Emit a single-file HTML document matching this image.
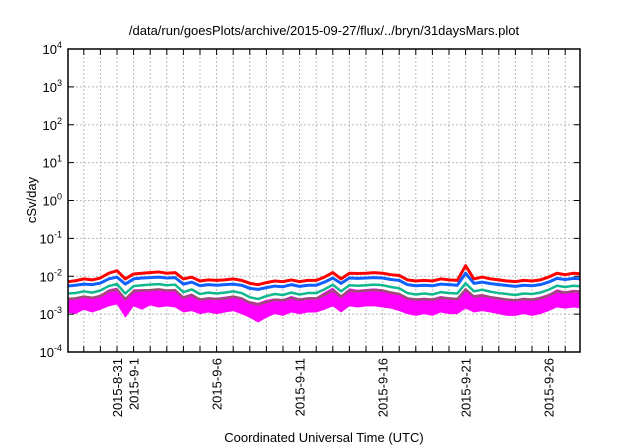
<!DOCTYPE html>
<html><head><meta charset="utf-8"><style>
html,body{margin:0;padding:0;background:#fff;}
svg{display:block;font-family:"Liberation Sans",sans-serif;}
</style></head><body>
<svg id="chart" width="640" height="448" viewBox="0 0 640 448" xmlns="http://www.w3.org/2000/svg">
<text x="324" y="35" font-size="13" text-anchor="middle">/data/run/goesPlots/archive/2015-09-27/flux/../bryn/31daysMars.plot</text>
<text transform="translate(36,200) rotate(-90)" font-size="13" text-anchor="middle">cSv/day</text>
<text x="324" y="442" font-size="13" text-anchor="middle">Coordinated Universal Time (UTC)</text>
<g id="grid"></g><g id="series"></g><g id="axes"></g>
</svg>
<script>
const times=[-3,-2.5,-2,-1.5,-1,-0.5,0,0.5,1,1.5,2,2.5,3,3.5,4,4.5,5,5.5,6,6.5,7,7.5,8,8.5,9,9.5,10,10.5,11,11.5,12,12.5,13,13.5,14,14.5,15,15.5,16,16.5,17,17.5,18,18.5,19,19.5,20,20.5,21,21.5,22,22.5,23,23.5,24,24.5,25,25.5,26,26.5,27,27.5,28];
const red=[0.0071,0.0076,0.0085,0.008,0.009,0.012,0.014,0.0085,0.0115,0.012,0.0125,0.013,0.012,0.0125,0.0085,0.0095,0.0075,0.008,0.0078,0.008,0.0085,0.0078,0.0065,0.006,0.0068,0.0075,0.0072,0.008,0.0072,0.0078,0.0078,0.0095,0.0125,0.0085,0.012,0.0118,0.012,0.0125,0.012,0.011,0.0105,0.008,0.0075,0.0078,0.0075,0.0085,0.008,0.0078,0.019,0.0085,0.0095,0.0085,0.008,0.0075,0.0072,0.0078,0.0075,0.008,0.0095,0.012,0.011,0.012,0.0115];
const blue=[0.0055,0.0058,0.0062,0.006,0.0066,0.0085,0.0095,0.0062,0.0085,0.009,0.0092,0.0095,0.009,0.0092,0.0062,0.007,0.0056,0.006,0.0058,0.006,0.0062,0.0058,0.0048,0.0045,0.005,0.0055,0.0053,0.006,0.0054,0.0058,0.0058,0.007,0.009,0.0065,0.009,0.0088,0.009,0.0092,0.009,0.0082,0.0078,0.006,0.0056,0.0058,0.0056,0.0062,0.006,0.0058,0.012,0.0065,0.007,0.0064,0.006,0.0057,0.0054,0.0058,0.0056,0.006,0.007,0.0088,0.0082,0.0088,0.0085];
const teal=[0.0035,0.0036,0.004,0.0037,0.0042,0.0055,0.0062,0.0035,0.0055,0.0058,0.006,0.0062,0.0058,0.006,0.0038,0.0045,0.0034,0.0037,0.0035,0.0037,0.004,0.0036,0.0028,0.0025,0.003,0.0034,0.0032,0.0037,0.0033,0.0036,0.0036,0.0045,0.006,0.004,0.0058,0.0056,0.0058,0.006,0.0058,0.0052,0.0048,0.0036,0.0033,0.0035,0.0033,0.0038,0.0036,0.0035,0.0065,0.004,0.0044,0.0039,0.0036,0.0034,0.0032,0.0035,0.0034,0.0037,0.0044,0.0056,0.0052,0.0056,0.0054];
const purple=[0.0025,0.0026,0.0029,0.0027,0.003,0.004,0.0045,0.0025,0.004,0.0042,0.0043,0.0045,0.0042,0.0043,0.0027,0.0032,0.0024,0.0026,0.0025,0.0026,0.0029,0.0026,0.002,0.0018,0.0021,0.0024,0.0023,0.0027,0.0024,0.0026,0.0026,0.0032,0.0043,0.0029,0.0042,0.004,0.0042,0.0043,0.0042,0.0037,0.0034,0.0026,0.0024,0.0025,0.0024,0.0027,0.0026,0.0025,0.0045,0.0029,0.0031,0.0028,0.0026,0.0024,0.0023,0.0025,0.0024,0.0026,0.0031,0.004,0.0037,0.004,0.0039];
const magHi=[0.0028,0.0025,0.003,0.0028,0.0033,0.0045,0.005,0.0026,0.0045,0.0046,0.0044,0.0048,0.0043,0.0046,0.003,0.0035,0.0026,0.0028,0.0027,0.0029,0.0031,0.0027,0.0022,0.002,0.0024,0.0026,0.0025,0.003,0.0026,0.0028,0.0028,0.0038,0.005,0.0032,0.0048,0.0044,0.0046,0.0048,0.0045,0.004,0.0036,0.0028,0.0026,0.0027,0.0026,0.003,0.0028,0.0027,0.0042,0.0032,0.0034,0.003,0.0028,0.0026,0.0025,0.0027,0.0026,0.0029,0.0034,0.0045,0.004,0.0044,0.0042];
const magLo=[0.0011,0.001,0.0013,0.0011,0.0013,0.0016,0.0018,0.0008,0.0016,0.0013,0.0017,0.0015,0.0016,0.0015,0.0011,0.0012,0.001,0.0011,0.001,0.0011,0.0012,0.001,0.0008,0.0006,0.0008,0.001,0.0009,0.0011,0.001,0.0011,0.0011,0.0013,0.0016,0.0011,0.0016,0.0015,0.0016,0.0016,0.0015,0.0014,0.0012,0.001,0.0009,0.001,0.0009,0.0011,0.001,0.001,0.0014,0.0011,0.0012,0.0011,0.001,0.0009,0.0009,0.001,0.0009,0.001,0.0012,0.0015,0.0014,0.0015,0.0014];
const yExps=[-4,-3,-2,-1,0,1,2,3,4];
const xLabelDays=[0,1,6,11,16,21,26];
const xLabels=["2015-8-31","2015-9-1","2015-9-6","2015-9-11","2015-9-16","2015-9-21","2015-9-26"];

const L=68,R=580,T=49,B=352,X0=117,PD=16.6;
const xs=t=>X0+PD*t;
const ys=v=>B-(Math.log10(v)+4)*(B-T)/8;
const NS="http://www.w3.org/2000/svg";
function mk(tag,parent,attrs){const e=document.createElementNS(NS,tag);for(const k in attrs)e.setAttribute(k,attrs[k]);parent.appendChild(e);return e;}
const grid=document.getElementById('grid'),axes=document.getElementById('axes'),ser=document.getElementById('series');
const defs=mk('defs',document.getElementById('chart'),{});
const cp=mk('clipPath',defs,{id:'clip'});mk('rect',cp,{x:L,y:T,width:R-L,height:B-T});
ser.setAttribute('clip-path','url(#clip)');
// y grid and ticks
yExps.forEach(e=>{
  const y=ys(Math.pow(10,e));
  if(e>-4&&e<4){const g=mk('line',grid,{x1:L,x2:R,y1:y,y2:y,stroke:'#bbb','stroke-dasharray':'2,2','stroke-width':1});
  
  }
  mk('line',axes,{x1:L,x2:L+6,y1:y,y2:y,stroke:'#000','stroke-width':1});
  mk('line',axes,{x1:R,x2:R-6,y1:y,y2:y,stroke:'#000','stroke-width':1});
  const t=mk('text',axes,{x:62,y:y+5,'font-size':13,'text-anchor':'end'});
  
  
  t.textContent='10';
  const s=mk('tspan',t,{dy:-6,'font-size':9});s.textContent=String(e);
});
// x grid/ticks each day
for(let d=-2;d<=27;d++){
  const x=xs(d);if(x<=L+1||x>=R-1)continue;
  const g=mk('line',grid,{x1:x,x2:x,y1:T,y2:B,stroke:'#bbb','stroke-dasharray':'2,2','stroke-width':1});
  
  
  mk('line',axes,{x1:x,x2:x,y1:B,y2:B-6,stroke:'#000','stroke-width':1});
  mk('line',axes,{x1:x,x2:x,y1:T,y2:T+6,stroke:'#000','stroke-width':1});
}
xLabelDays.forEach((d,i)=>{
  const x=xs(d)+5;
  const t=mk('text',axes,{transform:`translate(${x},358) rotate(-90)`,'font-size':13,'text-anchor':'end'});
  
  
  t.textContent=xLabels[i];
});
// magenta band
let pts=times.map((t,i)=>xs(t)+','+ys(magHi[i]));
for(let i=times.length-1;i>=0;i--)pts.push(xs(times[i])+','+ys(magLo[i]));
const band=mk('polygon',ser,{points:pts.join(' '),fill:'#ff00ff'});


function line(arr,color,w,name){
  const p=mk('polyline',ser,{points:times.map((t,i)=>xs(t)+','+ys(arr[i])).join(' '),fill:'none',stroke:color,'stroke-width':w,'stroke-linejoin':'round'});
  
  
}
line(purple,'#a04a7a',2.5,'purple-series');
line(teal,'#10b890',2.5,'teal-series');
line(red,'#ff0000',3,'red-series');
line(blue,'#1060ff',3,'blue-series');
const fr=mk('rect',axes,{x:L,y:T,width:R-L,height:B-T,fill:'none',stroke:'#000','stroke-width':1.5});


</script>
</body></html>
